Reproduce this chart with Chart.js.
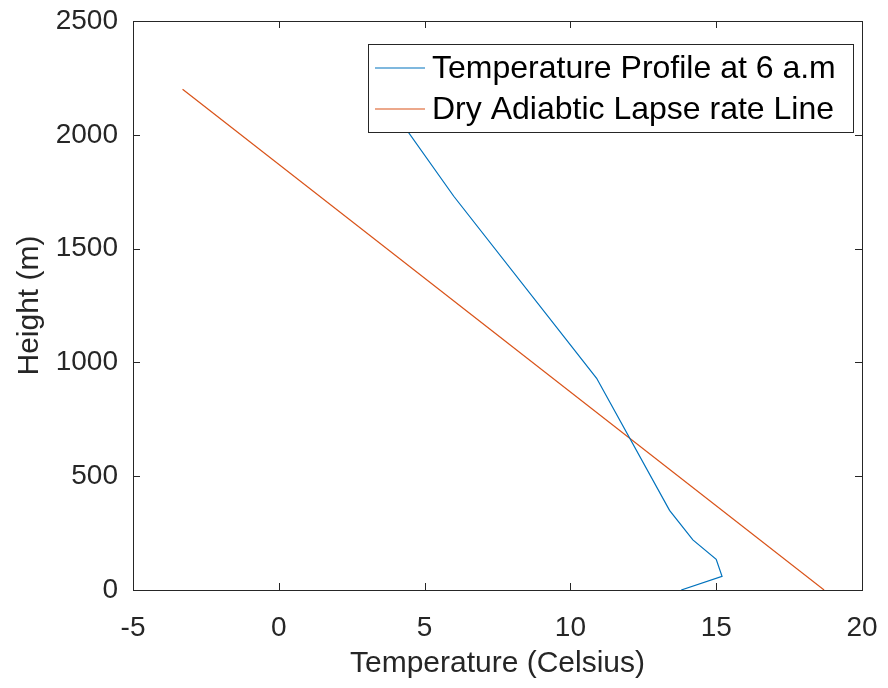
<!DOCTYPE html>
<html>
<head>
<meta charset="utf-8">
<script src="https://cdn.jsdelivr.net/npm/chart.js@4"></script>
<style>
  html, body { margin: 0; padding: 0; background: #fff; }
  #wrap { width: 888px; height: 688px; }
</style>
</head>
<body>
<div id="wrap"><canvas id="lineChart" width="888" height="688"></canvas></div>
<script>
// temperature profile at 6 a.m
const profileTemp = [13.8, 15.2, 15.0, 14.2, 13.4, 10.9, 6.0, 3.4];
const profileHeight = [0, 60, 135, 220, 350, 930, 1730, 2200];

// dry adiabatic lapse rate line
const dalrTemp = [18.7, -3.3];
const dalrHeight = [0, 2200];

const xTicks = [-5, 0, 5, 10, 15, 20];
const yTicks = [0, 500, 1000, 1500, 2000, 2500];

const seriesLabels = ["Temperature Profile at 6 a.m", "Dry Adiabtic Lapse rate Line"];
const seriesColors = ["#0072BD", "#D95319"];

const axisColor = "#262626";
const fontFamily = "'Liberation Sans', Arial, Helvetica, sans-serif";

function toPoints(xs, ys) {
  return xs.map((x, i) => ({ x: x, y: ys[i] }));
}

// box + inward ticks like matlab
const boxPlugin = {
  id: "boxTicks",
  afterDraw(chart) {
    const ctx = chart.ctx;
    const area = chart.chartArea;
    const xs = chart.scales.x;
    const ys = chart.scales.y;
    const len = 7;
    ctx.save();
    ctx.strokeStyle = axisColor;
    ctx.lineWidth = 1;
    ctx.strokeRect(area.left + 0.5, area.top + 0.5, area.right - area.left, area.bottom - area.top);
    ctx.beginPath();
    xTicks.forEach((v) => {
      const px = Math.round(xs.getPixelForValue(v)) + 0.5;
      ctx.moveTo(px, area.bottom);
      ctx.lineTo(px, area.bottom - len);
      ctx.moveTo(px, area.top);
      ctx.lineTo(px, area.top + len);
    });
    yTicks.forEach((v) => {
      const py = Math.round(ys.getPixelForValue(v)) + 0.5;
      ctx.moveTo(area.left, py);
      ctx.lineTo(area.left + len, py);
      ctx.moveTo(area.right, py);
      ctx.lineTo(area.right - len, py);
    });
    ctx.stroke();
    ctx.restore();
  },
};

// legend box in upper right
const legendPlugin = {
  id: "boxLegend",
  afterDraw(chart) {
    const ctx = chart.ctx;
    const bx = 368, by = 44, bw = 485, bh = 88;
    ctx.save();
    ctx.fillStyle = "#fff";
    ctx.fillRect(bx, by, bw, bh);
    ctx.strokeStyle = axisColor;
    ctx.lineWidth = 1;
    ctx.strokeRect(bx + 0.5, by + 0.5, bw, bh);
    ctx.font = "32px " + fontFamily;
    ctx.textBaseline = "middle";
    ctx.fillStyle = "#000";
    chart.data.datasets.forEach((ds, i) => {
      const yy = by + 24 + i * 41;
      ctx.strokeStyle = ds.borderColor;
      ctx.lineWidth = 1.2;
      ctx.beginPath();
      ctx.moveTo(bx + 7, yy);
      ctx.lineTo(bx + 57, yy);
      ctx.stroke();
      ctx.fillText(ds.label, bx + 64, yy + 1);
    });
    ctx.restore();
  },
};

new Chart(document.getElementById("lineChart").getContext("2d"), {
  type: "scatter",
  data: {
    datasets: [
      {
        label: seriesLabels[0],
        data: toPoints(profileTemp, profileHeight),
        showLine: true,
        borderColor: seriesColors[0],
        backgroundColor: seriesColors[0],
        borderWidth: 1.2,
        pointRadius: 0,
        tension: 0,
      },
      {
        label: seriesLabels[1],
        data: toPoints(dalrTemp, dalrHeight),
        showLine: true,
        borderColor: seriesColors[1],
        backgroundColor: seriesColors[1],
        borderWidth: 1.2,
        pointRadius: 0,
        tension: 0,
      },
    ],
  },
  options: {
    responsive: false,
    animation: false,
    layout: { padding: { top: 21, right: 26, left: 0, bottom: 0 } },
    plugins: {
      legend: { display: false },
      tooltip: { enabled: false },
    },
    scales: {
      x: {
        type: "linear",
        min: -5,
        max: 20,
        afterFit: (s) => {
          s.height = 98;
          s.paddingLeft = 0;
          s.paddingRight = 0;
        },
        afterBuildTicks: (s) => { s.ticks = xTicks.map((v) => ({ value: v })); },
        grid: { display: false, drawTicks: false },
        border: { display: false },
        ticks: {
          color: axisColor,
          padding: 21,
          maxRotation: 0,
          callback: (v) => String(v),
          font: { family: fontFamily, size: 28 },
        },
        title: {
          display: true,
          text: "Temperature (Celsius)",
          color: axisColor,
          padding: { top: 0, bottom: 6 },
          font: { family: fontFamily, size: 30 },
        },
      },
      y: {
        type: "linear",
        min: 0,
        max: 2500,
        afterFit: (s) => {
          s.width = 133;
          s.paddingTop = 0;
          s.paddingBottom = 0;
        },
        afterBuildTicks: (s) => { s.ticks = yTicks.map((v) => ({ value: v })); },
        grid: { display: false, drawTicks: false },
        border: { display: false },
        ticks: {
          color: axisColor,
          padding: 15,
          callback: (v) => String(v),
          font: { family: fontFamily, size: 28 },
        },
        title: {
          display: true,
          text: "Height (m)",
          color: axisColor,
          padding: { top: 12, bottom: 0 },
          font: { family: fontFamily, size: 30 },
        },
      },
    },
  },
  plugins: [boxPlugin, legendPlugin],
});
</script>
</body>
</html>
